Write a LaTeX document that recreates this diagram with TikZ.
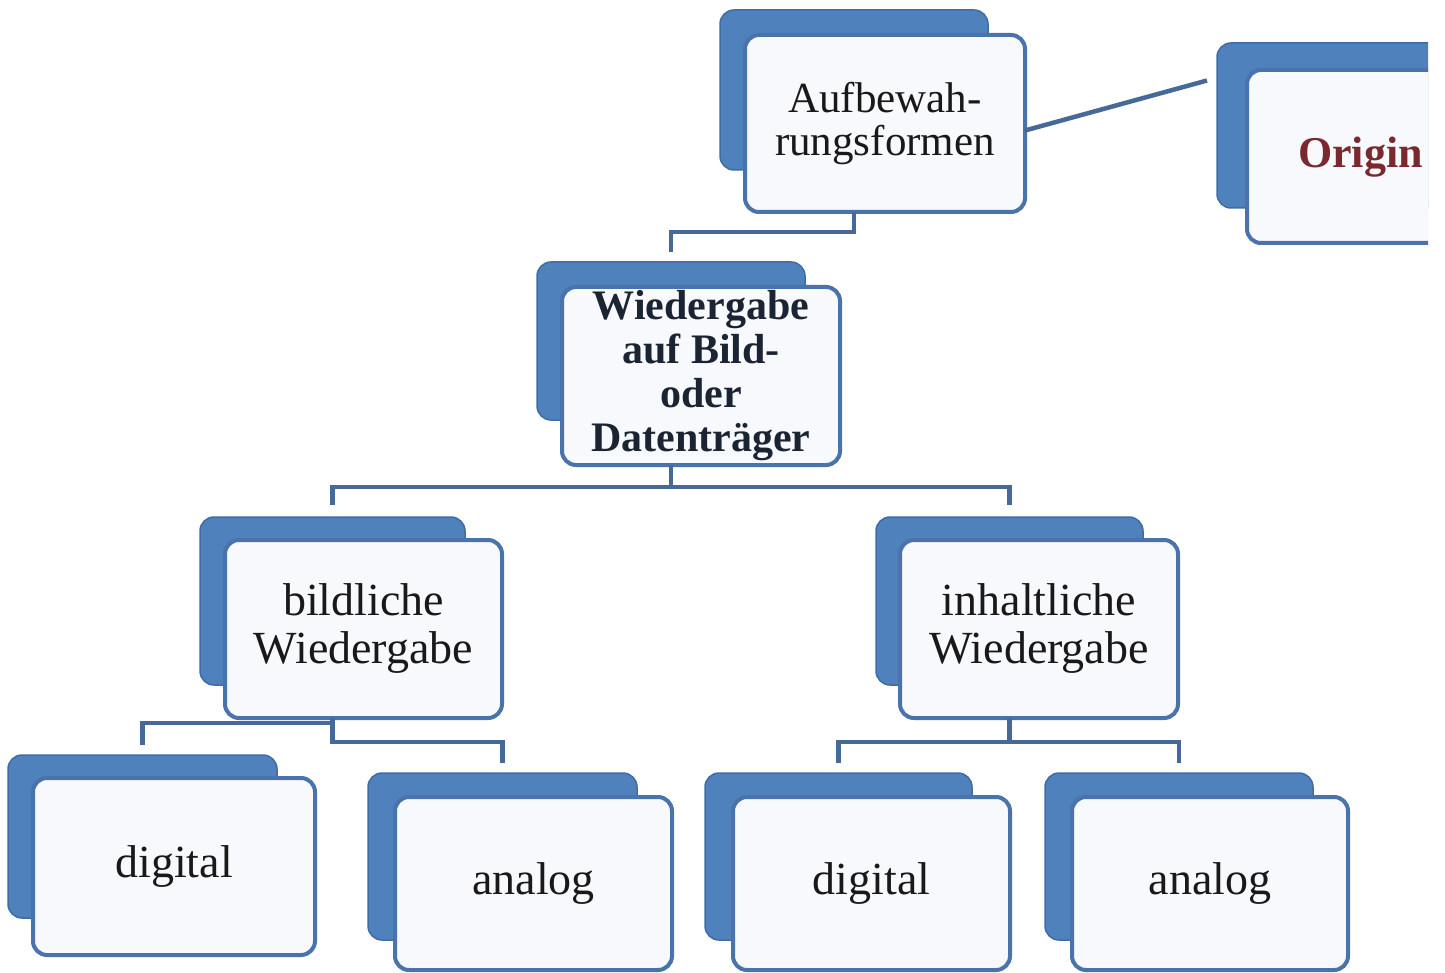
\documentclass[tikz,border=0pt]{standalone}
\usepackage{fontspec}
\setmainfont{Liberation Serif}
\definecolor{backblue}{HTML}{4F81BD}
\definecolor{backedge}{HTML}{3F6CA5}
\definecolor{frontedge}{HTML}{4A73AB}
\definecolor{connblue}{HTML}{47699A}
\definecolor{frontfill}{HTML}{F7F9FD}
\definecolor{origred}{HTML}{7A2A2E}
\definecolor{navy}{HTML}{1B2433}
\tikzset{
  backbox/.style={draw=backedge, line width=1.5pt, fill=backblue, rounded corners=14pt, inner sep=0pt, outer sep=0pt},
  frontbox/.style={draw=frontedge, line width=4pt, fill=frontfill, rounded corners=14pt, inner sep=0pt, outer sep=0pt, align=center, text=black!90},
  conn/.style={draw=connblue, line width=4.5pt},
  midtext/.style={font=\fontsize{46}{48}\selectfont},
}
\begin{document}
\begin{tikzpicture}[x=1pt,y=-1pt]
\useasboundingbox[fill=white] (0,0) rectangle (1445,973);
\begin{scope}
\clip (0,0) rectangle (1428,973);
% top
\node[backbox, minimum width=268pt, minimum height=160pt] (aufb) at (854,90) {};
\node[frontbox, minimum width=280pt, minimum height=177pt, font=\fontsize{43}{43}\selectfont] (auf) at (885,123.5) {Aufbewah-\\rungsformen};
% origin (cut at the right edge)
\node[backbox, minimum width=283pt, minimum height=165pt] (origb) at (1358.5,125.5) {};
\node[frontbox, minimum width=283pt, minimum height=173pt] (orig) at (1388.5,156.5) {};
\node[anchor=base west, inner sep=0pt, text=origred, font=\bfseries\fontsize{44}{44}\selectfont] (origt) at (1298,168) {Origin};
% second level
\node[backbox, minimum width=268pt, minimum height=158pt] (wiedb) at (671,341) {};
\node[frontbox, minimum width=278pt, minimum height=178pt, text=navy, font=\bfseries\fontsize{42}{44}\selectfont] (wied) at (701,376) {Wiedergabe\\auf Bild-\\oder\\Datenträger};
% third level
\node[backbox, minimum width=265pt, minimum height=168pt] (bildb) at (332.5,601) {};
\node[frontbox, minimum width=277pt, minimum height=178pt, midtext] (bild) at (363.5,629) {bildliche\\Wiedergabe};
\node[backbox, minimum width=267pt, minimum height=168pt] (inhb) at (1009.5,601) {};
\node[frontbox, minimum width=278pt, minimum height=178pt, midtext] (inh) at (1039,629) {inhaltliche\\Wiedergabe};
% bottom level
\node[backbox, minimum width=269pt, minimum height=163pt] (digAb) at (142.5,836.5) {};
\node[frontbox, minimum width=282pt, minimum height=177pt, midtext] (digA) at (174,866.5) {digital};
\node[backbox, minimum width=269pt, minimum height=167pt] (anaAb) at (502.5,856.5) {};
\node[frontbox, minimum width=277pt, minimum height=173pt, midtext] (anaA) at (533.5,883.5) {analog};
\node[backbox, minimum width=267pt, minimum height=167pt] (digBb) at (838.5,856.5) {};
\node[frontbox, minimum width=277pt, minimum height=173pt, midtext] (digB) at (871.5,883.5) {digital};
\node[backbox, minimum width=268pt, minimum height=167pt] (anaBb) at (1179,856.5) {};
\node[frontbox, minimum width=276pt, minimum height=173pt, midtext] (anaB) at (1210,883.5) {analog};
% connectors
\draw[conn] ([yshift=-7pt]auf.east) -- ([xshift=-10pt,yshift=45pt]origb.west);
\draw[conn] (auf.south -| aufb.center) -- ++(0,20) -| ([yshift=10pt]wiedb.north);
\draw[conn] (wied.south -| wiedb.center) -- ++(0,22) coordinate (jw);
\draw[conn] (jw) -| ([yshift=12pt]bildb.north);
\draw[conn] (jw) -| ([yshift=12pt]inhb.north);
\draw[conn] (bild.south -| bildb.center) -- ++(0,5) -| ([yshift=10pt]digAb.north);
\draw[conn] (bild.south -| bildb.center) -- ++(0,24) -| ([yshift=10pt]anaAb.north);
\draw[conn] (inh.south -| inhb.center) -- ++(0,24) coordinate (ji);
\draw[conn] (ji) -| ([yshift=10pt]digBb.north);
\draw[conn] (ji) -| ([yshift=10pt]anaBb.north);
\end{scope}
\end{tikzpicture}
\end{document}
